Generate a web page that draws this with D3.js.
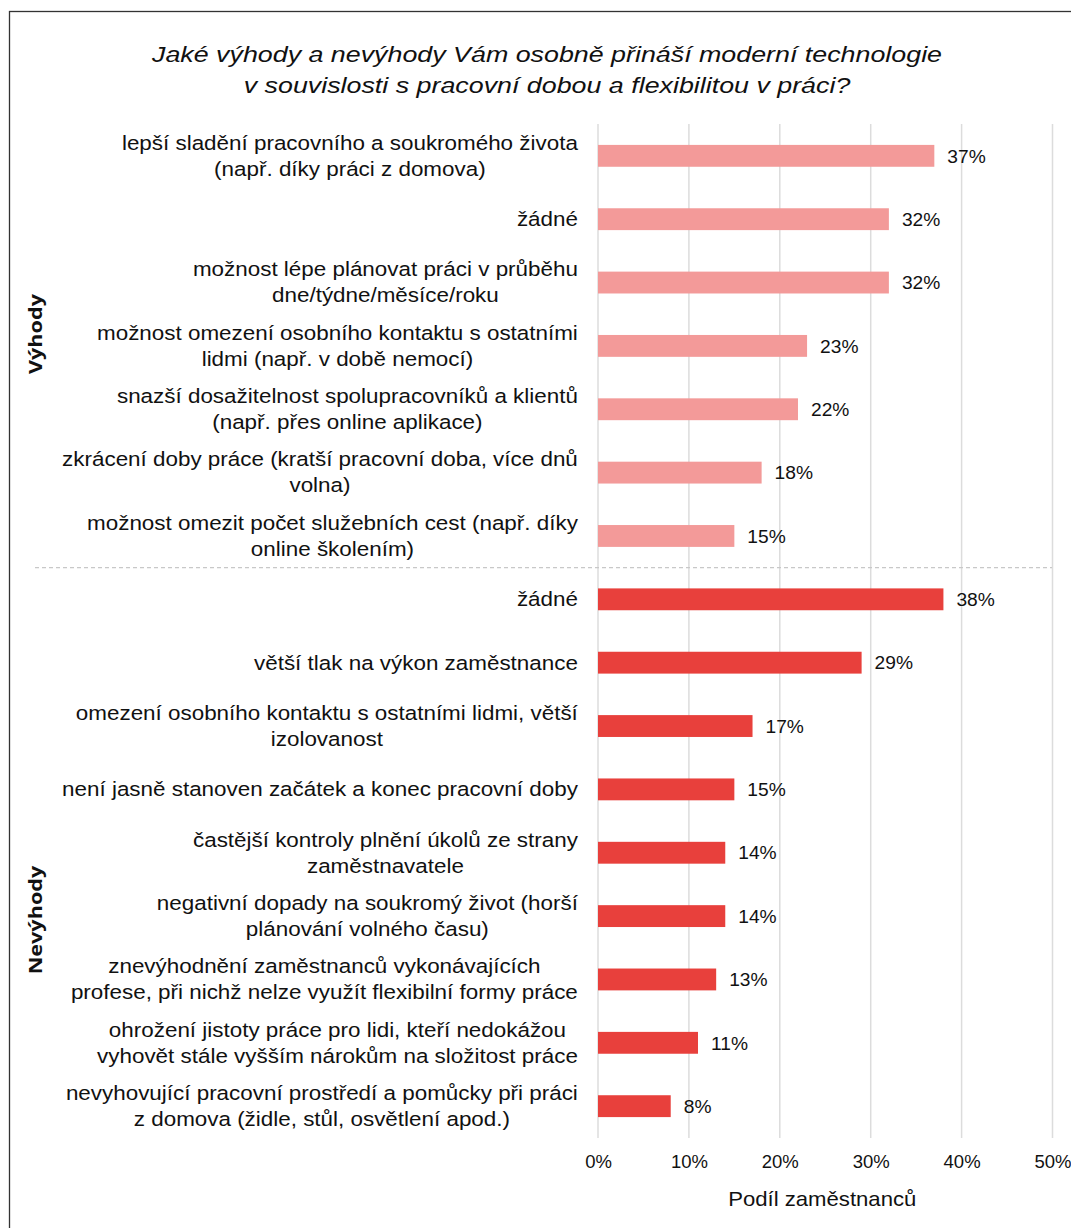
<!DOCTYPE html>
<html>
<head>
<meta charset="utf-8">
<script src="https://cdn.jsdelivr.net/npm/d3@7"></script>
<style>
  html, body { margin: 0; padding: 0; background: #fff; }
  svg { display: block; }
</style>
</head>
<body>
<svg id="chart" width="1071" height="1228"></svg>
<script>
// Survey answers, each label split into its display lines
const advantageLabels = [
  ["lepší sladění pracovního a soukromého života", "(např. díky práci z domova)"],
  ["žádné"],
  ["možnost lépe plánovat práci v průběhu", "dne/týdne/měsíce/roku"],
  ["možnost omezení osobního kontaktu s ostatními", "lidmi (např. v době nemocí)"],
  ["snazší dosažitelnost spolupracovníků a klientů", "(např. přes online aplikace)"],
  ["zkrácení doby práce (kratší pracovní doba, více dnů", "volna)"],
  ["možnost omezit počet služebních cest (např. díky", "online školením)"]
];
const advantageValues = [37, 32, 32, 23, 22, 18, 15];

const disadvantageLabels = [
  ["žádné"],
  ["větší tlak na výkon zaměstnance"],
  ["omezení osobního kontaktu s ostatními lidmi, větší", "izolovanost"],
  ["není jasně stanoven začátek a konec pracovní doby"],
  ["častější kontroly plnění úkolů ze strany", "zaměstnavatele"],
  ["negativní dopady na soukromý život (horší", "plánování volného času)"],
  ["znevýhodnění zaměstnanců vykonávajících", "profese, při nichž nelze využít flexibilní formy práce"],
  ["ohrožení jistoty práce pro lidi, kteří nedokážou", "vyhovět stále vyšším nárokům na složitost práce"],
  ["nevyhovující pracovní prostředí a pomůcky při práci", "z domova (židle, stůl, osvětlení apod.)"]
];
const disadvantageValues = [38, 29, 17, 15, 14, 14, 13, 11, 8];

const groupNames = ["Výhody", "Nevýhody"];
const xTicks = [0, 10, 20, 30, 40, 50];
const titleLines = [
  "Jaké výhody a nevýhody Vám osobně přináší moderní technologie",
  "v souvislosti s pracovní dobou a flexibilitou v práci?"
];
const axisTitle = "Podíl zaměstnanců";

const colors = { "Výhody": "#f39a99", "Nevýhody": "#e8403c" };

const rows = [
  ...advantageLabels.map((l, i) => ({ id: "a" + i, lines: l, value: advantageValues[i], group: groupNames[0] })),
  ...disadvantageLabels.map((l, i) => ({ id: "d" + i, lines: l, value: disadvantageValues[i], group: groupNames[1] }))
];

const svg = d3.select("#chart");
const font = "'Liberation Sans', Arial, sans-serif";

const x = d3.scaleLinear().domain([0, 50]).range([598, 1052.5]);
const y = d3.scaleBand().domain(rows.map(d => d.id)).range([124, 1138]).paddingInner(0.655).paddingOuter(0.33);

// outer frame
svg.append("rect")
  .attr("x", 9.5).attr("y", 11.5).attr("width", 1200).attr("height", 1400)
  .attr("fill", "none").attr("stroke", "#333").attr("stroke-width", 1.3);

// title (typeset slightly wide)
const titleSx = 1.22;
const title = svg.append("g").attr("transform", `translate(547,0) scale(${titleSx},1)`)
  .append("text")
  .attr("font-family", font).attr("font-style", "italic").attr("font-size", 22)
  .attr("fill", "#111").attr("text-anchor", "middle");
titleLines.forEach((t, i) => {
  title.append("tspan").attr("x", 0).attr("y", 62 + i * 31).text(t);
});

// vertical gridlines
svg.append("g").selectAll("line").data(xTicks).join("line")
  .attr("x1", d => x(d)).attr("x2", d => x(d))
  .attr("y1", 124).attr("y2", 1138)
  .attr("stroke", "#dcdcdc").attr("stroke-width", 1.5);

// x axis tick labels
const xAxis = d3.axisBottom(x).tickValues(xTicks).tickFormat(d => d + "%").tickSize(0).tickPadding(0);
const gx = svg.append("g").attr("transform", "translate(0,1155)").call(xAxis);
gx.select(".domain").remove();
gx.selectAll("text").attr("font-family", font).attr("font-size", 18.5).attr("fill", "#111").attr("dy", "0.71em");

// axis title
svg.append("g").attr("transform", `translate(${(x(0) + x(50)) / 2 - 3},1206) scale(1.08,1)`)
  .append("text")
  .attr("text-anchor", "middle").attr("font-family", font).attr("font-size", 20.5)
  .attr("fill", "#111").text(axisTitle);

// separator between groups
const sepY = (y(rows[advantageLabels.length - 1].id) + y.bandwidth() + y(rows[advantageLabels.length].id)) / 2;
svg.append("line")
  .attr("x1", 35).attr("x2", 1052).attr("y1", sepY).attr("y2", sepY)
  .attr("stroke", "#c8c8c8").attr("stroke-width", 1.2).attr("stroke-dasharray", "4,3");

// bars
svg.append("g").selectAll("rect").data(rows).join("rect")
  .attr("x", x(0)).attr("y", d => y(d.id))
  .attr("width", d => x(d.value) - x(0)).attr("height", y.bandwidth())
  .attr("fill", d => colors[d.group]);

// value labels
svg.append("g").selectAll("text").data(rows).join("text")
  .attr("x", d => x(d.value) + 13).attr("y", d => y(d.id) + y.bandwidth() / 2)
  .attr("dy", "0.35em").attr("font-family", font).attr("font-size", 19.2).attr("fill", "#111")
  .text(d => d.value + "%");

// category labels: lines centred on one another, block right-aligned to the axis
const lineH = 26;
const labelRight = 578;
const labelSx = 1.15;
const lg = svg.append("g");
rows.forEach(d => {
  const cy = y(d.id) + y.bandwidth() / 2;
  const g = lg.append("g");
  const t = g.append("text")
    .attr("font-family", font).attr("font-size", 19.5).attr("fill", "#111").attr("text-anchor", "middle");
  const spans = d.lines.map((line, i) =>
    t.append("tspan").attr("x", 0).attr("y", (i - (d.lines.length - 1) / 2) * lineH).attr("dy", "0.35em").text(line));
  const maxW = d3.max(spans, s => s.node().getComputedTextLength()) * labelSx;
  g.attr("transform", `translate(${labelRight - maxW / 2},${cy}) scale(${labelSx},1)`);
});

// group labels
const groupPos = [{ name: groupNames[0], cy: 334 }, { name: groupNames[1], cy: 920 }];
svg.append("g").selectAll("text").data(groupPos).join("text")
  .attr("transform", d => `translate(42,${d.cy}) rotate(-90) scale(1.17,1)`)
  .attr("text-anchor", "middle").attr("font-family", "'Open Sans', sans-serif")
  .attr("font-weight", "bold").attr("font-size", 18.5).attr("fill", "#111")
  .text(d => d.name);
</script>
</body>
</html>
